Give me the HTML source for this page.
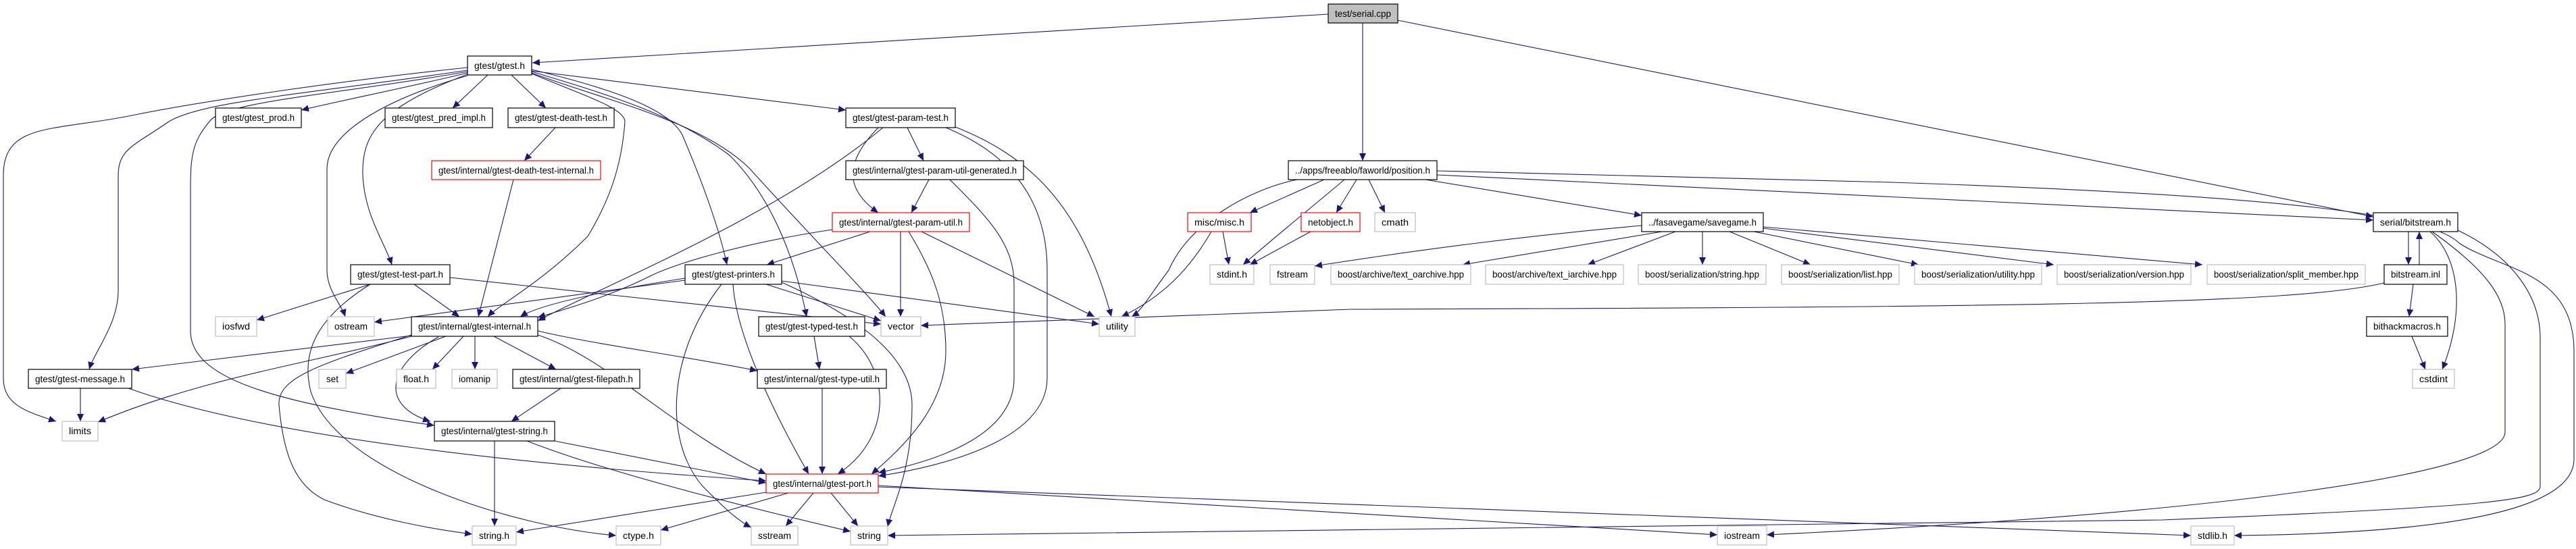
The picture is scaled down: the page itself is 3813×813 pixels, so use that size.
<!DOCTYPE html>
<html><head><meta charset="utf-8"><style>
html,body{margin:0;padding:0;background:#fff;}
svg{display:block;}
text{font-family:"Liberation Sans Narrow","Liberation Sans",sans-serif;font-size:14px;fill:#000;}
.e{fill:none;stroke:#191970;stroke-width:1.1;marker-end:url(#ah);}
.nb{fill:#fff;stroke:#000;stroke-width:1.2;}
.ng{fill:#fff;stroke:#bfbfbf;stroke-width:1.2;}
.nr{fill:#fff;stroke:#ff0000;stroke-width:1.2;}
</style></head><body>
<svg width="3813" height="813" viewBox="0 0 3813 813" xmlns="http://www.w3.org/2000/svg">
<defs><marker id="ah" markerUnits="userSpaceOnUse" markerWidth="12" markerHeight="10" refX="11" refY="5" orient="auto"><path d="M0,0 L11,5 L0,10 Z" fill="#191970"/></marker></defs>
<g>
<path class="e" d="M1966,21 L788,93"/>
<path class="e" d="M2017,34 L2017,238"/>
<path class="e" d="M2069,30 L3513,321"/>
<path class="e" d="M692,108 C600,130 500,150 446,163"/>
<path class="e" d="M722,111 L670,160"/>
<path class="e" d="M757,111 L808,160"/>
<path class="e" d="M787,105 L1252,163"/>
<path class="e" d="M692,110 C560,160 535,200 537,260 C540,320 570,360 580,392"/>
<path class="e" d="M692,100 C500,120 300,150 200,170 C80,195 5,180 5,260 L5,560 C5,600 40,610 83,624"/>
<path class="e" d="M692,104 C450,140 300,150 250,180 C200,215 175,220 175,260 L175,430 C175,480 140,520 132,547"/>
<path class="e" d="M692,106 C500,140 330,150 310,180 C285,210 282,230 282,280 L282,490 C282,560 400,595 643,630"/>
<path class="e" d="M692,112 C560,150 484,200 484,250 L484,400 C484,430 505,450 511,469"/>
<path class="e" d="M787,109 C860,140 925,160 925,180 C920,250 900,300 870,350 C800,420 740,450 722,469"/>
<path class="e" d="M787,103 C900,130 990,160 1010,200 C1040,270 1065,340 1076,392"/>
<path class="e" d="M787,106 C900,140 1000,170 1080,230 C1150,300 1180,400 1194,469"/>
<path class="e" d="M787,108 C900,150 1040,180 1110,250 C1200,350 1280,430 1311,469"/>
<path class="e" d="M822,189 L776,238"/>
<path class="e" d="M760,266 L708,469"/>
<path class="e" d="M548,421 L380,474"/>
<path class="e" d="M613,421 L680,469"/>
<path class="e" d="M666,411 L1304,480"/>
<path class="e" d="M548,421 C470,470 445,520 460,580 C500,700 760,780 912,793"/>
<path class="e" d="M609,497 L195,547"/>
<path class="e" d="M609,498 C450,540 300,560 145,625"/>
<path class="e" d="M660,498 L512,553"/>
<path class="e" d="M686,498 L640,547"/>
<path class="e" d="M703,498 L703,547"/>
<path class="e" d="M731,498 L823,547"/>
<path class="e" d="M649,499 C575,540 560,600 637,624"/>
<path class="e" d="M609,496 C470,540 410,560 413,600 C420,680 440,720 480,740 C560,770 650,785 699,791"/>
<path class="e" d="M796,496 C900,530 1000,640 1134,702"/>
<path class="e" d="M796,490 C880,510 1000,525 1121,549"/>
<path class="e" d="M119,575 L119,624"/>
<path class="e" d="M190,575 C400,650 800,690 1134,712"/>
<path class="e" d="M830,575 L757,624"/>
<path class="e" d="M732,653 L732,779"/>
<path class="e" d="M821,653 L1134,715"/>
<path class="e" d="M780,653 C900,700 1100,750 1259,787"/>
<path class="e" d="M1134,729 L764,788"/>
<path class="e" d="M1167,730 L978,785"/>
<path class="e" d="M1204,730 L1163,779"/>
<path class="e" d="M1230,730 L1270,779"/>
<path class="e" d="M1300,719 L2542,792"/>
<path class="e" d="M1300,721 L3243,793"/>
<path class="e" d="M1014,415 L554,477"/>
<path class="e" d="M1014,412 C900,430 800,450 770,469"/>
<path class="e" d="M1134,421 L1304,475"/>
<path class="e" d="M1157,416 L1627,480"/>
<path class="e" d="M1085,421 C1090,500 1150,620 1197,702"/>
<path class="e" d="M1068,421 C990,520 980,650 1040,720 C1070,750 1090,770 1112,781"/>
<path class="e" d="M1157,418 C1250,460 1350,520 1350,600 C1350,700 1320,750 1314,780"/>
<path class="e" d="M1205,498 L1213,547"/>
<path class="e" d="M1257,498 C1320,550 1320,650 1240,702"/>
<path class="e" d="M1217,575 L1217,702"/>
<path class="e" d="M1343,189 L1367,238"/>
<path class="e" d="M1300,189 C1250,240 1250,280 1300,315"/>
<path class="e" d="M1307,189 C1150,320 900,420 796,475"/>
<path class="e" d="M1400,189 C1500,230 1550,300 1550,400 L1550,560 C1550,650 1400,690 1300,705"/>
<path class="e" d="M1414,188 C1520,230 1600,300 1645,469"/>
<path class="e" d="M1375,266 L1349,315"/>
<path class="e" d="M1406,266 C1460,320 1501,360 1501,420 L1501,560 C1501,640 1400,680 1300,700"/>
<path class="e" d="M1345,343 C1380,400 1400,450 1400,520 C1400,600 1340,660 1290,702"/>
<path class="e" d="M1288,343 L1135,392"/>
<path class="e" d="M1232,340 C1100,360 1000,390 960,410 C900,440 830,460 796,470"/>
<path class="e" d="M1333,343 L1333,469"/>
<path class="e" d="M1364,343 L1620,469"/>
<path class="e" d="M1960,266 L1850,315"/>
<path class="e" d="M1990,266 C1950,300 1900,340 1840,392"/>
<path class="e" d="M2008,266 L1978,315"/>
<path class="e" d="M2026,266 L2050,315"/>
<path class="e" d="M2110,266 L2430,319"/>
<path class="e" d="M1920,266 C1850,280 1760,330 1730,400 C1700,440 1690,460 1675,469"/>
<path class="e" d="M2127,259 L3513,326"/>
<path class="e" d="M2127,253 L2800,270 C3400,290 3600,320 3640,360 C3700,400 3810,400 3810,520 L3810,680 C3810,760 3600,790 3307,793"/>
<path class="e" d="M1810,343 L1819,392"/>
<path class="e" d="M1793,343 C1760,400 1720,440 1660,469"/>
<path class="e" d="M1940,343 L1850,392"/>
<path class="e" d="M2430,334 C2250,350 2100,370 1946,394"/>
<path class="e" d="M2460,343 L2165,392"/>
<path class="e" d="M2480,343 L2350,392"/>
<path class="e" d="M2520,343 L2520,392"/>
<path class="e" d="M2560,343 L2680,392"/>
<path class="e" d="M2596,343 L2840,392"/>
<path class="e" d="M2610,338 L3040,392"/>
<path class="e" d="M2610,336 L3260,392"/>
<path class="e" d="M3565,343 L3565,392"/>
<path class="e" d="M3581,392 L3581,343"/>
<path class="e" d="M3572,421 L3566,469"/>
<path class="e" d="M3570,498 L3590,547"/>
<path class="e" d="M3597,343 C3640,380 3650,460 3615,547"/>
<path class="e" d="M3600,343 C3680,400 3708,440 3708,480 L3708,640 C3708,700 3300,760 2615,792"/>
<path class="e" d="M3638,341 C3720,380 3760,440 3760,500 L3760,720 C3760,740 3700,750 3200,770 L1314,793"/>
<path class="e" d="M3529,419 C3400,450 3000,455 2000,458 L1363,482"/>
</g>
<g text-anchor="middle">
<rect x="1966" y="6" width="103" height="28" fill="#bfbfbf" stroke="#000" stroke-width="1.2"/><text x="2017.5" y="25" textLength="83" lengthAdjust="spacingAndGlyphs">test/serial.cpp</text>
<rect class="nb" x="692" y="83" width="95" height="28"/><text x="739.5" y="102" textLength="75" lengthAdjust="spacingAndGlyphs">gtest/gtest.h</text>
<rect class="nb" x="319" y="160" width="127" height="29"/><text x="382.5" y="179" textLength="107" lengthAdjust="spacingAndGlyphs">gtest/gtest_prod.h</text>
<rect class="nb" x="570" y="160" width="159" height="29"/><text x="649.5" y="179" textLength="139" lengthAdjust="spacingAndGlyphs">gtest/gtest_pred_impl.h</text>
<rect class="nb" x="752" y="160" width="157" height="29"/><text x="830.5" y="179" textLength="137" lengthAdjust="spacingAndGlyphs">gtest/gtest-death-test.h</text>
<rect class="nr" x="639" y="238" width="250" height="28"/><text x="764" y="257" textLength="230" lengthAdjust="spacingAndGlyphs">gtest/internal/gtest-death-test-internal.h</text>
<rect class="nb" x="519" y="392" width="147" height="29"/><text x="592.5" y="411" textLength="127" lengthAdjust="spacingAndGlyphs">gtest/gtest-test-part.h</text>
<rect class="ng" x="319" y="469" width="61" height="29"/><text x="349.5" y="488" textLength="41" lengthAdjust="spacingAndGlyphs">iosfwd</text>
<rect class="ng" x="485" y="469" width="69" height="29"/><text x="519.5" y="488" textLength="49" lengthAdjust="spacingAndGlyphs">ostream</text>
<rect class="nb" x="609" y="469" width="187" height="29"/><text x="702.5" y="488" textLength="167" lengthAdjust="spacingAndGlyphs">gtest/internal/gtest-internal.h</text>
<rect class="nb" x="42" y="547" width="153" height="28"/><text x="118.5" y="566" textLength="133" lengthAdjust="spacingAndGlyphs">gtest/gtest-message.h</text>
<rect class="ng" x="472" y="547" width="40" height="28"/><text x="492" y="566" textLength="18" lengthAdjust="spacingAndGlyphs">set</text>
<rect class="ng" x="587" y="547" width="58" height="28"/><text x="616" y="566" textLength="38" lengthAdjust="spacingAndGlyphs">float.h</text>
<rect class="ng" x="669" y="547" width="67" height="28"/><text x="702.5" y="566" textLength="47" lengthAdjust="spacingAndGlyphs">iomanip</text>
<rect class="nb" x="759" y="547" width="188" height="28"/><text x="853" y="566" textLength="168" lengthAdjust="spacingAndGlyphs">gtest/internal/gtest-filepath.h</text>
<rect class="ng" x="92" y="624" width="53" height="29"/><text x="118.5" y="643" textLength="33" lengthAdjust="spacingAndGlyphs">limits</text>
<rect class="nb" x="643" y="624" width="178" height="29"/><text x="732" y="643" textLength="158" lengthAdjust="spacingAndGlyphs">gtest/internal/gtest-string.h</text>
<rect class="ng" x="699" y="779" width="65" height="28"/><text x="731.5" y="798" textLength="45" lengthAdjust="spacingAndGlyphs">string.h</text>
<rect class="ng" x="912" y="779" width="66" height="28"/><text x="945" y="798" textLength="46" lengthAdjust="spacingAndGlyphs">ctype.h</text>
<rect class="nb" x="1252" y="160" width="162" height="29"/><text x="1333" y="179" textLength="142" lengthAdjust="spacingAndGlyphs">gtest/gtest-param-test.h</text>
<rect class="nb" x="1252" y="238" width="263" height="28"/><text x="1383.5" y="257" textLength="243" lengthAdjust="spacingAndGlyphs">gtest/internal/gtest-param-util-generated.h</text>
<rect class="nr" x="1232" y="315" width="203" height="28"/><text x="1333.5" y="334" textLength="183" lengthAdjust="spacingAndGlyphs">gtest/internal/gtest-param-util.h</text>
<rect class="nb" x="1014" y="392" width="143" height="29"/><text x="1085.5" y="411" textLength="123" lengthAdjust="spacingAndGlyphs">gtest/gtest-printers.h</text>
<rect class="nr" x="1758" y="315" width="94" height="28"/><text x="1805" y="334" textLength="74" lengthAdjust="spacingAndGlyphs">misc/misc.h</text>
<rect class="ng" x="1791" y="392" width="65" height="29"/><text x="1823.5" y="411" textLength="45" lengthAdjust="spacingAndGlyphs">stdint.h</text>
<rect class="ng" x="1880" y="392" width="66" height="29"/><text x="1913" y="411" textLength="46" lengthAdjust="spacingAndGlyphs">fstream</text>
<rect class="nb" x="1123" y="469" width="157" height="29"/><text x="1201.5" y="488" textLength="137" lengthAdjust="spacingAndGlyphs">gtest/gtest-typed-test.h</text>
<rect class="ng" x="1304" y="469" width="59" height="29"/><text x="1333.5" y="488" textLength="39" lengthAdjust="spacingAndGlyphs">vector</text>
<rect class="ng" x="1627" y="469" width="53" height="29"/><text x="1653.5" y="488" textLength="33" lengthAdjust="spacingAndGlyphs">utility</text>
<rect class="nb" x="1121" y="547" width="191" height="28"/><text x="1216.5" y="566" textLength="171" lengthAdjust="spacingAndGlyphs">gtest/internal/gtest-type-util.h</text>
<rect class="nr" x="1134" y="702" width="166" height="28"/><text x="1217" y="721" textLength="146" lengthAdjust="spacingAndGlyphs">gtest/internal/gtest-port.h</text>
<rect class="ng" x="1112" y="779" width="69" height="28"/><text x="1146.5" y="798" textLength="49" lengthAdjust="spacingAndGlyphs">sstream</text>
<rect class="ng" x="1259" y="779" width="55" height="28"/><text x="1286.5" y="798" textLength="35" lengthAdjust="spacingAndGlyphs">string</text>
<rect class="nb" x="1907" y="238" width="220" height="28"/><text x="2017" y="257" textLength="200" lengthAdjust="spacingAndGlyphs">../apps/freeablo/faworld/position.h</text>
<rect class="nr" x="1926" y="315" width="87" height="28"/><text x="1969.5" y="334" textLength="67" lengthAdjust="spacingAndGlyphs">netobject.h</text>
<rect class="ng" x="2035" y="315" width="60" height="28"/><text x="2065" y="334" textLength="40" lengthAdjust="spacingAndGlyphs">cmath</text>
<rect class="nb" x="2430" y="315" width="180" height="28"/><text x="2520" y="334" textLength="160" lengthAdjust="spacingAndGlyphs">../fasavegame/savegame.h</text>
<rect class="ng" x="1970" y="392" width="207" height="29"/><text x="2073.5" y="411" textLength="187" lengthAdjust="spacingAndGlyphs">boost/archive/text_oarchive.hpp</text>
<rect class="ng" x="2199" y="392" width="204" height="29"/><text x="2301" y="411" textLength="184" lengthAdjust="spacingAndGlyphs">boost/archive/text_iarchive.hpp</text>
<rect class="ng" x="2425" y="392" width="189" height="29"/><text x="2519.5" y="411" textLength="169" lengthAdjust="spacingAndGlyphs">boost/serialization/string.hpp</text>
<rect class="ng" x="2637" y="392" width="174" height="29"/><text x="2724" y="411" textLength="154" lengthAdjust="spacingAndGlyphs">boost/serialization/list.hpp</text>
<rect class="ng" x="2834" y="392" width="188" height="29"/><text x="2928" y="411" textLength="168" lengthAdjust="spacingAndGlyphs">boost/serialization/utility.hpp</text>
<rect class="ng" x="3045" y="392" width="198" height="29"/><text x="3144" y="411" textLength="178" lengthAdjust="spacingAndGlyphs">boost/serialization/version.hpp</text>
<rect class="ng" x="3267" y="392" width="234" height="29"/><text x="3384" y="411" textLength="214" lengthAdjust="spacingAndGlyphs">boost/serialization/split_member.hpp</text>
<rect class="nb" x="3513" y="315" width="125" height="28"/><text x="3575.5" y="334" textLength="105" lengthAdjust="spacingAndGlyphs">serial/bitstream.h</text>
<rect class="nb" x="3529" y="392" width="93" height="29"/><text x="3575.5" y="411" textLength="73" lengthAdjust="spacingAndGlyphs">bitstream.inl</text>
<rect class="nb" x="3503" y="469" width="120" height="29"/><text x="3563" y="488" textLength="100" lengthAdjust="spacingAndGlyphs">bithackmacros.h</text>
<rect class="ng" x="3571" y="547" width="62" height="28"/><text x="3602" y="566" textLength="42" lengthAdjust="spacingAndGlyphs">cstdint</text>
<rect class="ng" x="2542" y="779" width="73" height="28"/><text x="2578.5" y="798" textLength="53" lengthAdjust="spacingAndGlyphs">iostream</text>
<rect class="ng" x="3243" y="779" width="64" height="28"/><text x="3275" y="798" textLength="44" lengthAdjust="spacingAndGlyphs">stdlib.h</text>
</g>
</svg>
</body></html>
